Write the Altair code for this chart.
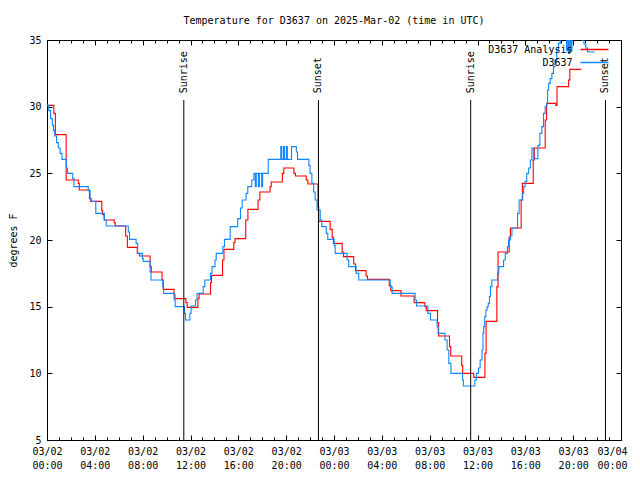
import altair as alt
import pandas as pd

# ---------------- data (hours since 2025-03-02 00:00 UTC) ----------------
obs_hours = [0.00, 0.15, 0.30, 0.45, 0.55, 0.65, 0.80, 0.95, 1.10, 1.25, 1.62, 1.72, 2.15, 2.25,
             3.45, 3.60, 3.70, 4.08, 4.80, 4.95, 6.80, 6.90, 7.45, 7.58, 7.98, 8.05, 8.62, 8.70,
             9.68, 9.75, 10.63, 10.72, 11.50, 11.58, 11.95, 12.05, 12.42, 12.55, 13.06, 13.20,
             13.67, 13.80, 14.05, 14.15, 14.70, 14.84, 15.32, 15.95, 16.18, 16.32, 16.65, 16.79,
             17.12, 17.30, 17.42, 17.50, 17.68, 17.76, 17.95, 18.03, 18.50, 19.55, 19.63, 19.78,
             19.86, 20.02, 20.10, 20.45, 20.85, 20.95, 21.90, 22.00, 22.15, 22.30,
             22.42, 22.58, 22.85, 22.98, 23.35, 23.48, 24.02, 24.10, 25.10, 25.23, 25.85, 26.07,
             28.70, 28.86, 30.78, 30.90, 31.85, 32.07, 32.62, 32.71, 33.28, 33.46, 33.60, 33.78,
             34.75, 34.82, 35.78, 35.90, 36.08, 36.22, 36.38, 36.46, 36.52, 36.60, 36.70, 36.80,
             36.90, 37.00, 37.08, 37.20, 37.68, 37.78, 38.18, 38.32, 38.50, 38.60, 38.75, 38.88,
             39.35, 39.48, 39.78, 39.86, 39.98, 40.12, 40.28, 40.42, 40.55, 40.70, 41.05, 41.22,
             41.38, 41.52, 41.66, 41.80, 41.86, 41.95, 42.08, 42.22, 42.35, 42.48, 42.63, 42.78,
             42.92, 43.45, 43.55, 43.62, 43.72, 43.80, 43.90, 44.75, 44.90, 45.05, 45.20, 45.80]
obs_temps = [30.1, 29.7, 29.1, 28.6, 28.2, 27.8, 27.3, 26.9, 26.5, 26.05, 25.4, 25.0, 24.6, 24.0,
             23.7, 23.1, 22.9, 22.0, 21.5, 21.05, 20.6, 20.05, 19.75, 19.0, 18.6, 18.4, 17.6, 17.0,
             16.5, 16.0, 15.5, 15.0, 14.5, 14.0, 14.5, 15.05, 15.5, 16.0, 16.5, 17.0,
             17.5, 18.0, 18.5, 19.0, 19.5, 20.05, 21.0, 21.6, 22.4, 23.0, 23.5, 24.0,
             24.5, 25.0, 24.0, 25.0, 24.0, 25.0, 24.0, 25.0, 26.05, 27.0, 26.05, 27.0,
             26.05, 27.0, 26.05, 27.0, 26.6, 26.05, 25.6, 25.0, 24.25, 23.6,
             23.0, 22.25, 21.5, 21.0, 20.5, 20.05, 19.6, 19.0, 18.5, 18.0, 17.5, 17.0,
             16.5, 16.0, 15.5, 15.05, 14.5, 14.0, 13.5, 13.0, 12.5, 11.75, 10.75, 10.0,
             9.5, 9.05, 9.5, 10.0, 10.4, 11.0, 11.75, 13.0, 13.5, 14.25, 14.75, 15.0,
             15.25, 15.75, 16.5, 17.0, 17.5, 18.0, 18.5, 19.0, 19.5, 20.0, 20.3, 20.9,
             22.0, 23.0, 23.5, 24.0, 24.4, 25.0, 25.4, 26.0, 26.9, 26.1, 27.1, 28.0,
             28.5, 29.5, 30.0, 30.25, 31.25, 31.75, 32.1, 32.5, 33.0, 33.5, 34.25, 34.75,
             36.0, 34.2, 36.0, 34.0, 36.0, 34.2, 36.5, 35.0, 34.7, 34.4, 34.1, 34.1]

ana_hours = [0.00, 0.57, 0.70, 1.60, 2.62, 2.70, 3.55, 3.65, 4.58, 4.65, 4.78, 5.62, 5.70,
             6.58, 6.72, 7.55, 7.75, 8.62, 8.72, 9.62, 9.72, 10.62, 10.70, 11.62, 11.72,
             12.62, 12.72, 13.68, 13.76, 14.68, 14.80, 15.62, 15.72, 16.62, 16.80, 17.65, 17.80,
             18.65, 18.75, 19.68, 19.80, 20.65, 20.78, 21.68, 21.82, 22.66, 22.72, 23.68, 23.85,
             23.95, 24.68, 24.80, 25.65, 25.80, 26.68, 26.80, 28.62, 28.75, 29.60, 30.70, 31.60,
             31.72, 32.66, 32.75, 33.66, 33.76, 34.68, 34.76, 35.68, 36.62, 36.72, 37.62, 37.72,
             38.65, 38.75, 39.65, 39.75, 40.66, 40.75, 41.66, 41.78, 42.55, 42.65, 43.62, 43.72,
             44.67]
ana_temps = [30.1, 29.5, 27.9, 24.5, 24.25, 23.75, 23.1, 22.9, 22.2, 21.9, 21.5, 21.3, 21.05,
             20.3, 19.45, 19.0, 18.8, 18.0, 17.6, 17.0, 16.3, 15.9, 15.6, 15.3, 14.95,
             15.6, 15.95, 16.8, 17.35, 18.5, 19.3, 19.8, 20.1, 21.5, 22.3, 23.0, 23.6,
             24.0, 24.35, 25.0, 25.4, 25.0, 24.8, 24.5, 24.2, 22.5, 21.4, 20.8, 20.2,
             19.75, 19.1, 18.75, 18.2, 17.7, 17.3, 17.05, 16.6, 16.2, 15.8, 15.3, 15.0,
             14.7, 13.8, 12.8, 12.0, 11.3, 10.6, 10.0, 9.7, 11.5, 13.9, 16.5, 19.1,
             20.2, 20.9, 23.0, 24.25, 26.0, 26.9, 29.0, 30.25, 30.1, 31.5, 32.0, 32.8,
             32.8]

event_hours = [11.44, 22.70, 35.43, 46.70]
event_labels = ["Sunrise", "Sunset", "Sunrise", "Sunset"]
event_line_top = 30.5     # degrees F where the event line stops
event_label_base = 31.0   # degrees F where the rotated label starts

series_names = ["D3637 Analysis", "D3637"]
y_ticks = [5, 10, 15, 20, 25, 30, 35]
x_major = list(range(0, 49, 4))
x_minor = list(range(0, 49, 1))

TITLE = "Temperature for D3637 on 2025-Mar-02 (time in UTC)"
FONT = "DejaVu Sans Mono"
RED = "#ff0000"
BLUE = "#0f87ff"

# ---------------- tables ----------------
obs_df = pd.DataFrame({"hour": obs_hours, "temp": obs_temps, "series": series_names[1]})
ana_df = pd.DataFrame({"hour": ana_hours, "temp": ana_temps, "series": series_names[0]})
ev_df = pd.DataFrame({"hour": event_hours, "label": event_labels})

x_scale = alt.Scale(domain=[0, 48], nice=False, zero=False)
y_scale = alt.Scale(domain=[5, 35], nice=False, zero=False)
color_scale = alt.Scale(domain=series_names, range=[RED, BLUE])

label_expr = ("['03/0' + (2 + floor(datum.value / 24)), "
              "(datum.value % 24 < 10 ? '0' : '') + (datum.value % 24) + ':00']")

common = dict(domain=False, grid=False, tickColor="black", tickWidth=1)

ax_x_bottom = alt.Axis(orient="bottom", values=x_major, offset=-5, tickSize=5, labelExpr=label_expr,
                       labelPadding=6, labelFont=FONT, labelFontSize=10, labelColor="black",
                       labelAngle=0, labelLineHeight=14, labelOverlap=False, labelFlush=False,
                       labelOffset={"condition": {"test": "datum.value == 48", "value": -9},
                                    "value": 0},
                       title=None, **common)
ax_x_bottom_minor = alt.Axis(orient="bottom", values=x_minor, offset=-3, tickSize=3, labels=False,
                             title=None, **common)
ax_x_top = alt.Axis(orient="top", values=x_major, offset=-5, tickSize=5, labels=False,
                    title=None, **common)
ax_x_top_minor = alt.Axis(orient="top", values=x_minor, offset=-3, tickSize=3, labels=False,
                          title=None, **common)
ax_y_left = alt.Axis(orient="left", values=y_ticks, offset=-5, tickSize=5, labelPadding=6,
                     labelFont=FONT, labelFontSize=10, labelColor="black", labelFlush=False,
                     title="degrees F", titleFont=FONT, titleFontSize=10, titleFontWeight="normal",
                     titleColor="black", titlePadding=10, **common)
ax_y_right = alt.Axis(orient="right", values=y_ticks, offset=-5, tickSize=5, labels=False,
                      title=None, **common)

legend = alt.Legend(orient="none", legendX=504.5, legendY=4.5, title=None,
                    symbolType="M3.71,0H11.71", symbolSize=49, symbolOffset=11,
                    symbolStrokeWidth=1.5, labelAlign="right", labelOffset=0, labelFont=FONT,
                    labelFontSize=10, labelColor="black", rowPadding=3, padding=0)

red = alt.Chart(ana_df).mark_line(interpolate="step-after", strokeWidth=1.1, clip=True).encode(
    x=alt.X("hour:Q", scale=x_scale, axis=ax_x_bottom),
    y=alt.Y("temp:Q", scale=y_scale, axis=ax_y_left),
    color=alt.Color("series:N", scale=color_scale, legend=legend),
)

blue = alt.Chart(obs_df).mark_line(interpolate="step-after", strokeWidth=1.1, clip=True).encode(
    x=alt.X("hour:Q", scale=x_scale, axis=ax_x_bottom_minor),
    y=alt.Y("temp:Q", scale=y_scale, axis=ax_y_right),
    color=alt.Color("series:N", scale=color_scale, legend=legend),
)

rules = alt.Chart(ev_df).mark_rule(color="black", strokeWidth=1).encode(
    x=alt.X("hour:Q", scale=x_scale, axis=ax_x_top),
    y=alt.YDatum(5, scale=y_scale, axis=None),
    y2=alt.Y2Datum(event_line_top),
)

labels = alt.Chart(ev_df).mark_text(angle=270, align="left", baseline="middle", font=FONT,
                                    fontSize=10, color="black").encode(
    x=alt.X("hour:Q", scale=x_scale, axis=ax_x_top_minor),
    y=alt.YDatum(event_label_base, scale=y_scale, axis=None),
    text="label:N",
)

chart = alt.layer(red, blue, rules, labels).resolve_axis(
    x="independent", y="independent"
).properties(
    width=574,
    height=400,
    padding={"left": 39, "top": 32, "right": 11, "bottom": 40},
    autosize=alt.AutoSizeParams(type="none"),
    title=alt.TitleParams(TITLE, font=FONT, fontSize=10, fontWeight="normal", color="black",
                          anchor="middle", offset=9),
).configure_view(stroke="black", strokeWidth=1)

chart.save("out.html", embed_options={"renderer": "svg", "actions": False})
